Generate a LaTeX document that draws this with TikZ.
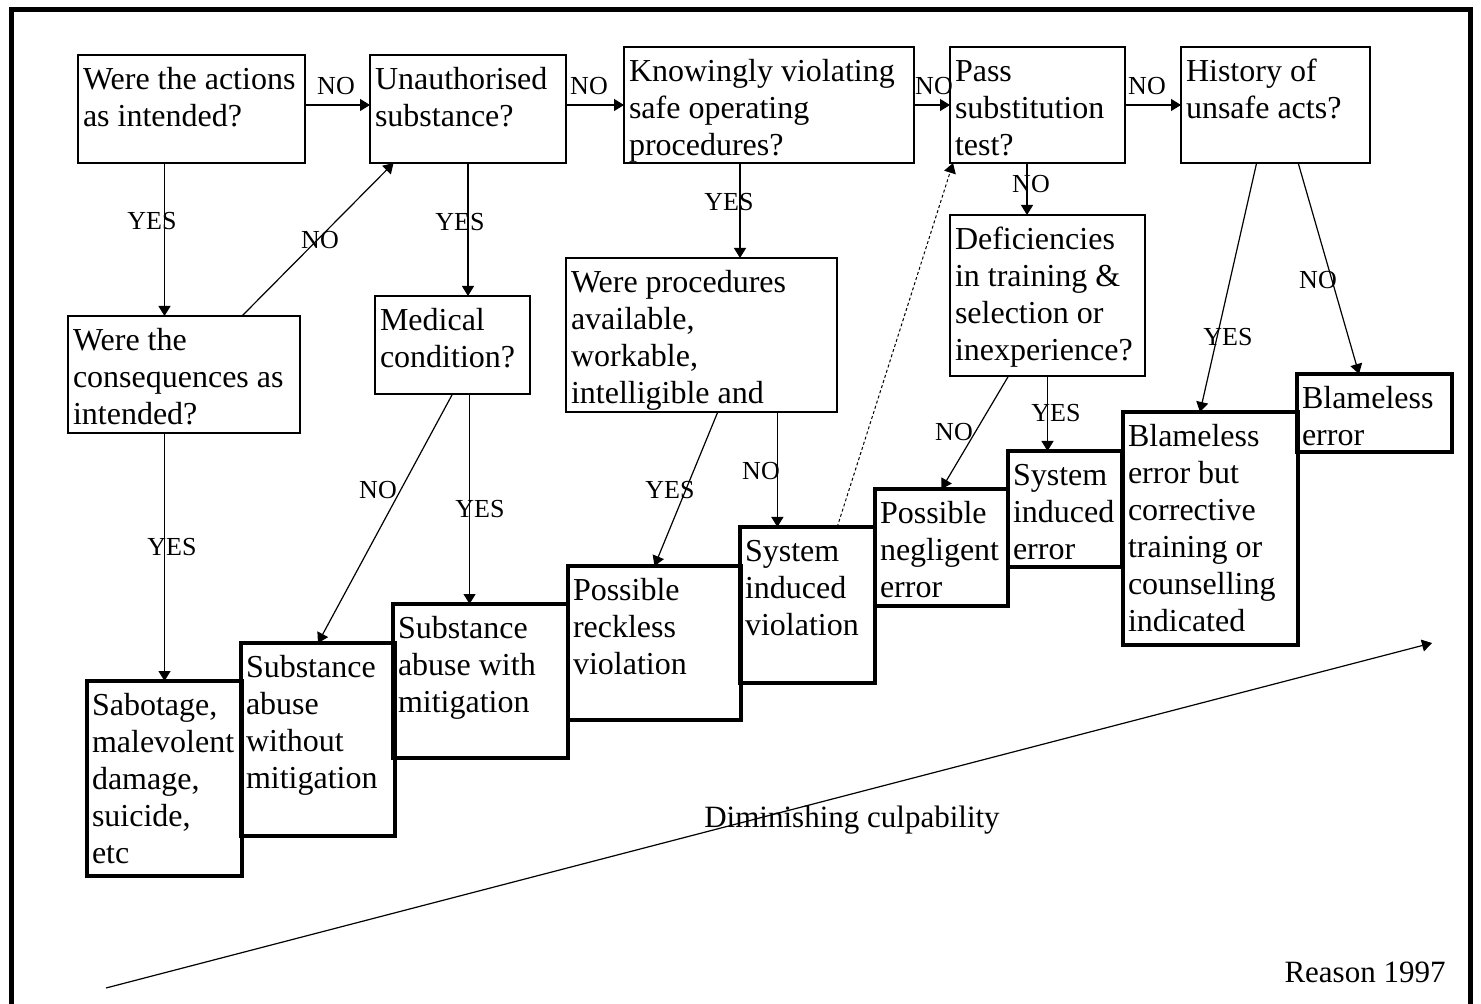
\documentclass[tikz,border=0pt]{standalone}
\usepackage{fontspec}
\setmainfont{Liberation Serif}
\usetikzlibrary{arrows.meta,calc}
\newcommand{\boxfont}{\fontsize{16}{18.5}\selectfont}
\newcommand{\lblfont}{\fontsize{13}{15}\selectfont}
\newcommand{\boxtext}[3]{\parbox[t][#2pt][t]{#1pt}{\raggedright\strut #3}}
\tikzset{
	qbox/.style={draw, line width=1.4pt, anchor=north west, inner xsep=2.5pt, inner ysep=4.5pt, outer sep=0pt, font=\boxfont},
	abox/.style={qbox, line width=2pt},
	lbl/.style={font=\lblfont, inner sep=0pt},
	note/.style={font=\fontsize{15.5}{18}\selectfont, inner sep=0pt},
	arr/.style={-{Triangle[length=5pt,width=6pt]}, line width=0.6pt},
	dotarr/.style={arr, line width=0.5pt, dash pattern=on 1.5pt off 1.2pt}
}
\begin{document}
\begin{tikzpicture}[x=0.5pt, y=-0.5pt]
	\useasboundingbox (0,0) rectangle (1481,1004);
	\draw[line width=2.5pt] (11,1004) -- (11,9.5) -- (1470.5,9.5) -- (1470.5,1004);

	\node[qbox] (actions) at (78,55) {\boxtext{108.5}{45}{Were the actions\\as intended?}};
	\node[qbox] (unauth) at (370,55) {\boxtext{93}{45}{Unauthorised\\substance?}};
	\node[qbox] (knowing) at (624,47) {\boxtext{140}{49}{Knowingly violating\\safe operating\\procedures?}};
	\node[qbox] (pass) at (950,47) {\boxtext{82.5}{49}{Pass\\substitution\\test?}};
	\node[qbox] (history) at (1181,47) {\boxtext{89.5}{49}{History of\\unsafe acts?}};
	\node[qbox] (conseq) at (68,316) {\boxtext{111}{49.5}{Were the\\consequences as\\intended?}};
	\node[qbox] (medical) at (375,296) {\boxtext{72.5}{40}{Medical\\condition?}};
	\node[qbox] (procs) at (566,258) {\boxtext{130.5}{68}{Were procedures\\available,\\workable,\\intelligible and}};
	\node[qbox] (defic) at (950,215) {\boxtext{92.5}{71.5}{Deficiencies\\in training \&\\selection or\\inexperience?}};

	\node[abox] (sabot) at (87,681) {\boxtext{72.5}{88.5}{Sabotage,\\malevolent\\damage,\\suicide,\\etc}};
	\node[abox] (woutmit) at (241,643) {\boxtext{72}{87.5}{Substance\\abuse\\without\\mitigation}};
	\node[abox] (withmit) at (393,604) {\boxtext{82.5}{68}{Substance\\abuse with\\mitigation}};
	\node[abox] (reckless) at (568,566) {\boxtext{81.5}{68}{Possible\\reckless\\violation}};
	\node[abox] (sysviol) at (740,527) {\boxtext{62.5}{69}{System\\induced\\violation}};
	\node[abox] (negl) at (875,489) {\boxtext{61.5}{49.5}{Possible\\negligent\\error}};
	\node[abox] (syserr) at (1008,451) {\boxtext{52}{49}{System\\induced\\error}};
	\node[abox] (blamecorr) at (1123,412) {\boxtext{82.5}{107.5}{Blameless\\error but\\corrective\\training or\\counselling\\indicated}};
	\node[abox] (blameless) at (1297,374) {\boxtext{72.5}{30}{Blameless\\error}};

	\coordinate (kout) at ($(knowing.south west)!0.4!(knowing.south east)$);
	\coordinate (pout) at ($(pass.south west)!0.44!(pass.south east)$);
	\coordinate (mout) at ($(medical.south west)!0.61!(medical.south east)$);
	\coordinate (prout) at ($(procs.south west)!0.78!(procs.south east)$);

	\draw[arr] ([yshift=2pt]actions.east) -- ([yshift=2pt]unauth.west);
	\draw[arr] (unauth.east |- knowing.east) -- (knowing.west);
	\draw[arr] (knowing.east) -- (pass.west);
	\draw[arr] (pass.east) -- (history.west);
	\draw[arr] (actions.south -| sabot.north) -- (conseq.north -| sabot.north);
	\draw[arr] ($(conseq.north west)!0.75!(conseq.north east)$) -- ($(unauth.south west)!0.12!(unauth.south east)$);
	\draw[arr] (unauth.south) -- (unauth.south |- medical.north);
	\draw[arr] (kout) -- (kout |- procs.north);
	\draw[arr] (pout) -- (pout |- defic.north);
	\draw[arr] (conseq.south -| sabot.north) -- (sabot.north);
	\draw[arr] (medical.south) -- (woutmit.north);
	\draw[arr] (mout) -- (mout |- withmit.north);
	\draw[arr] ($(procs.south west)!0.56!(procs.south east)$) -- (reckless.north);
	\draw[arr] (prout) -- (prout |- sysviol.north);
	\draw[dotarr] ($(sysviol.north west)!0.72!(sysviol.north east)$) -- ([xshift=1.5pt]pass.south west);
	\draw[arr] ($(defic.south west)!0.3!(defic.south east)$) -- (negl.north);
	\draw[arr] (defic.south) -- (defic.south |- syserr.north);
	\draw[arr] ($(history.south west)!0.4!(history.south east)$) -- ($(blamecorr.north west)!0.44!(blamecorr.north east)$);
	\draw[arr] ($(history.south west)!0.62!(history.south east)$) -- ($(blameless.north west)!0.4!(blameless.north east)$);

	\node[lbl] (no1) at (336,86) {NO};
	\node[lbl] (no2) at (589,86) {NO};
	\node[lbl] (no3) at (934,86) {NO};
	\node[lbl] (no4) at (1147,86) {NO};
	\node[lbl] (yes1) at (152,221) {YES};
	\node[lbl] (no5) at (320,240) {NO};
	\node[lbl] (yes2) at (460,222) {YES};
	\node[lbl] (yes3) at (729,202) {YES};
	\node[lbl] (no6) at (1031,184) {NO};
	\node[lbl] (yes4) at (172,547) {YES};
	\node[lbl] (no7) at (378,490) {NO};
	\node[lbl] (yes5) at (480,509) {YES};
	\node[lbl] (yes6) at (670,490) {YES};
	\node[lbl] (no8) at (761,471) {NO};
	\node[lbl] (no9) at (954,432) {NO};
	\node[lbl] (yes7) at (1056,413) {YES};
	\node[lbl] (yes8) at (1228,337) {YES};
	\node[lbl] (no10) at (1318,280) {NO};

	\coordinate (low) at (106,988);
	\coordinate (high) at (1432,643);
	\draw[arr] (low) -- (high);
	\node[note] (culp) at (852,820) {Diminishing culpability};
	\node[note] (src) at (1365,972) {Reason 1997};
\end{tikzpicture}
\end{document}
